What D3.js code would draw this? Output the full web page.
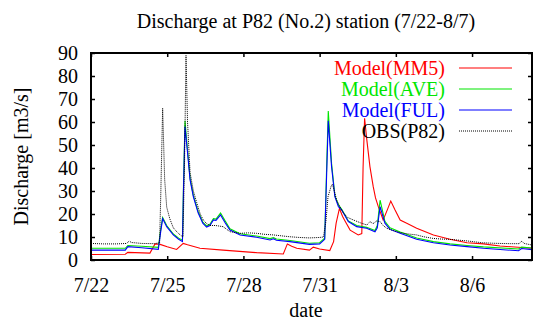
<!DOCTYPE html>
<html>
<head>
<meta charset="utf-8">
<script src="https://cdn.jsdelivr.net/npm/d3@7"></script>
<style>
  body { margin: 0; background: #fff; }
  text { font-family: "Liberation Serif", "Times New Roman", serif; }
</style>
</head>
<body>
<div id="chart"></div>
<script>
const width = 537;
const height = 320;
const margin = {left: 91, right: 5, top: 53, bottom: 60};
const serif = '"Liberation Serif", "Times New Roman", serif';

// days since 7/22 00:00, discharge [m3/s]
const seriesNames = ["Model(MM5)", "Model(AVE)", "Model(FUL)", "OBS(P82)"];
const seriesColors = ["#ff0000", "#00e600", "#0000ff", "#000000"];

const mm5 = [[0, 2.4], [1.35, 2.5], [1.45, 3.3], [2.32, 3.0], [2.52, 7.0], [2.72, 6.8], [3.0, 5.8], [3.37, 4.6],
  [3.63, 7.2], [3.8, 6.6], [4.29, 5.1], [5.2, 4.3], [6.52, 3.2], [7.57, 2.6], [7.73, 7.0], [7.9, 6.0], [8.1, 5.1],
  [8.6, 4.3], [8.75, 5.6], [9.0, 4.8], [9.4, 4.1], [9.55, 8], [9.65, 16], [9.78, 22.4], [9.9, 19], [10.0, 17],
  [10.2, 13], [10.52, 10.9], [10.66, 11.5], [10.71, 40], [10.77, 61.6], [10.86, 52], [10.98, 40.6], [11.11, 31.9],
  [11.2, 27], [11.31, 23.2], [11.5, 17.4], [11.66, 21.7], [11.8, 25.6], [11.97, 21.7], [12.17, 17.4], [12.43, 16],
  [12.82, 13.8], [13.48, 10.9], [14.13, 9], [14.8, 7.5], [15.45, 7], [16.1, 6.1], [17.36, 5.1]];

const ave = [[0, 5.1], [1.35, 5.1], [1.45, 6.3], [2.0, 6.0], [2.65, 5.5], [2.74, 13], [2.82, 18.5], [2.98, 15],
  [3.24, 11.3], [3.45, 9.5], [3.6, 8.6], [3.64, 32], [3.7, 60.5], [3.79, 49], [3.9, 35.5], [4.03, 28], [4.22, 21],
  [4.4, 16.5], [4.55, 14.8], [4.68, 15.5], [4.82, 18], [4.92, 17.8], [5.1, 20.4], [5.28, 17], [5.47, 13.6],
  [5.87, 11.4], [6.52, 10.4], [7.05, 9.3], [7.18, 9.7], [7.3, 9.1], [7.83, 8.5], [8.6, 7.3], [9.0, 7.5], [9.2, 9.5],
  [9.27, 38], [9.34, 64.8], [9.47, 42], [9.6, 28], [9.74, 24], [9.87, 22], [10.13, 17], [10.46, 15], [10.85, 14.2],
  [11.18, 12.8], [11.27, 15], [11.38, 26], [11.57, 16.8], [11.77, 14], [12.17, 12.2], [12.82, 9.6], [13.48, 8],
  [14.13, 7.0], [14.8, 6.3], [15.45, 5.7], [16.83, 4.8], [16.95, 5.6], [17.36, 5.2]];

const ful = [[0, 4.3], [1.35, 4.3], [1.45, 5.8], [2.0, 5.3], [2.65, 4.6], [2.74, 12], [2.82, 18], [2.98, 14.5],
  [3.24, 10.9], [3.45, 9], [3.6, 8], [3.64, 30], [3.7, 58], [3.79, 47.8], [3.9, 34.8], [4.03, 27.5], [4.22, 20.4],
  [4.4, 16], [4.55, 14.3], [4.68, 15], [4.82, 17.4], [4.92, 17.2], [5.1, 19.6], [5.28, 16.2], [5.47, 13],
  [5.87, 10.9], [6.52, 9.9], [7.05, 8.7], [7.18, 9.2], [7.3, 8.6], [7.83, 8], [8.6, 6.8], [9.0, 7.0], [9.2, 9],
  [9.27, 35], [9.34, 60.5], [9.47, 40.6], [9.6, 27.5], [9.74, 23.2], [9.87, 21.7], [10.13, 16.7], [10.46, 14.5],
  [10.85, 13.8], [11.18, 12.3], [11.27, 14], [11.38, 23.2], [11.57, 16], [11.77, 13.3], [12.17, 11.6], [12.82, 9],
  [13.48, 7.5], [14.13, 6.5], [14.8, 5.8], [15.45, 5.1], [16.83, 4.0], [16.95, 5.0], [17.36, 4.5]];

const obs = [[0, 7.2], [0.5, 7.0], [1.0, 7.0], [1.4, 7.2], [1.5, 8.2], [1.6, 7.6], [2.0, 7.2], [2.5, 7.1],
  [2.7, 7.5], [2.75, 30], [2.82, 66], [2.9, 35], [2.98, 23], [3.1, 18], [3.24, 14], [3.4, 12], [3.5, 11],
  [3.62, 10], [3.68, 40], [3.74, 89], [3.8, 60], [3.9, 38], [4.03, 30], [4.16, 25], [4.3, 20], [4.42, 17.4],
  [4.55, 15.8], [4.68, 15], [4.9, 15], [5.2, 14.5], [5.47, 12.3], [5.87, 11.6], [6.2, 11.8], [6.52, 11.6],
  [6.8, 11.2], [7.18, 10.9], [7.5, 10.5], [7.83, 10.1], [8.2, 9.8], [8.6, 9.6], [9.0, 9.8], [9.15, 10], [9.25, 17],
  [9.33, 27.5], [9.45, 32], [9.5, 33], [9.58, 30], [9.67, 26], [9.8, 23], [9.94, 20.4], [10.1, 18.5], [10.33, 17.4],
  [10.6, 16.2], [10.86, 15.2], [10.98, 16.7], [11.1, 15.8], [11.25, 17], [11.38, 16.7], [11.5, 15], [11.64, 13.8],
  [11.9, 12.8], [12.17, 11.9], [12.5, 11.3], [12.82, 10.9], [13.1, 10.1], [13.46, 9.4], [13.8, 9.1], [14.13, 9.0],
  [14.5, 8.6], [14.8, 8.3], [15.1, 7.9], [15.4, 7.5], [15.8, 7.3], [16.1, 7.2], [16.5, 7.1], [16.85, 7.1],
  [16.96, 8.2], [17.05, 7.2], [17.36, 6.5]];

const xTicks = [0, 3, 6, 9, 12, 15];
const xTickLabels = ["7/22", "7/25", "7/28", "7/31", "8/3", "8/6"];
const yTicks = [0, 10, 20, 30, 40, 50, 60, 70, 80, 90];

const allSeries = [mm5, ave, ful, obs];

const svg = d3.select("#chart")
    .append("svg")
    .attr("width", width)
    .attr("height", height);

const x = d3.scaleLinear().domain([0, 17.36]).range([margin.left, width - margin.right]);
const y = d3.scaleLinear().domain([0, 90]).range([height - margin.bottom, margin.top]);

svg.append("clipPath").attr("id", "plot-clip")
  .append("rect")
    .attr("x", margin.left).attr("y", margin.top)
    .attr("width", x.range()[1] - margin.left)
    .attr("height", y.range()[0] - margin.top);

const line = d3.line().x(d => x(d[0])).y(d => y(d[1]));

const lines = svg.append("g").attr("clip-path", "url(#plot-clip)");
allSeries.forEach((s, i) => {
  lines.append("path")
      .datum(s)
      .attr("fill", "none")
      .attr("stroke", seriesColors[i])
      .attr("stroke-width", i === 3 ? 1 : 1.1)
      .attr("stroke-dasharray", i === 3 ? "1,1" : null)
      .attr("d", line);
});

// axes: ticks inward on all four sides
const xBottom = d3.axisBottom(x).tickValues(xTicks).tickSize(-4).tickFormat((d, i) => xTickLabels[i]).tickPadding(18);
const xTop = d3.axisTop(x).tickValues(xTicks).tickSize(-4).tickFormat("");
const yLeft = d3.axisLeft(y).tickValues(yTicks).tickSize(-4).tickPadding(13);
const yRight = d3.axisRight(y).tickValues(yTicks).tickSize(-4).tickFormat("");

function styleAxis(g) {
  g.attr("font-family", serif).attr("font-size", 20);
  g.select(".domain").remove();
  g.selectAll(".tick line").attr("stroke", "#000").attr("stroke-width", 1.5);
  g.selectAll(".tick text").attr("fill", "#000");
}

svg.append("g").attr("transform", `translate(0,${y.range()[0]})`).call(xBottom).call(styleAxis);
svg.append("g").attr("transform", `translate(0,${margin.top})`).call(xTop).call(styleAxis);
svg.append("g").attr("transform", `translate(${margin.left},0)`).call(yLeft).call(styleAxis);
svg.append("g").attr("transform", `translate(${x.range()[1]},0)`).call(yRight).call(styleAxis);

// frame
svg.append("rect")
    .attr("x", margin.left).attr("y", margin.top)
    .attr("width", x.range()[1] - margin.left)
    .attr("height", y.range()[0] - margin.top)
    .attr("fill", "none")
    .attr("stroke", "#000")
    .attr("stroke-width", 2);

// title and axis labels
svg.append("text")
    .attr("x", 306).attr("y", 28)
    .attr("text-anchor", "middle")
    .attr("font-size", 20)
    .text("Discharge at P82 (No.2) station (7/22-8/7)");

svg.append("text")
    .attr("x", 306).attr("y", 317)
    .attr("text-anchor", "middle")
    .attr("font-size", 20)
    .text("date");

svg.append("text")
    .attr("transform", `translate(28,${(margin.top + y.range()[0]) / 2}) rotate(-90)`)
    .attr("text-anchor", "middle")
    .attr("font-size", 20)
    .text("Discharge [m3/s]");

// legend
const legend = svg.append("g");
seriesNames.forEach((name, i) => {
  const ly = 68 + i * 21;
  legend.append("text")
      .attr("x", 445).attr("y", ly)
      .attr("dy", "0.33em")
      .attr("text-anchor", "end")
      .attr("font-size", 20)
      .attr("fill", seriesColors[i])
      .text(name);
  legend.append("line")
      .attr("x1", 459).attr("x2", 512)
      .attr("y1", ly).attr("y2", ly)
      .attr("stroke", seriesColors[i])
      .attr("stroke-width", i === 3 ? 1 : 1.1)
      .attr("stroke-dasharray", i === 3 ? "1,1" : null);
});
</script>
</body>
</html>
